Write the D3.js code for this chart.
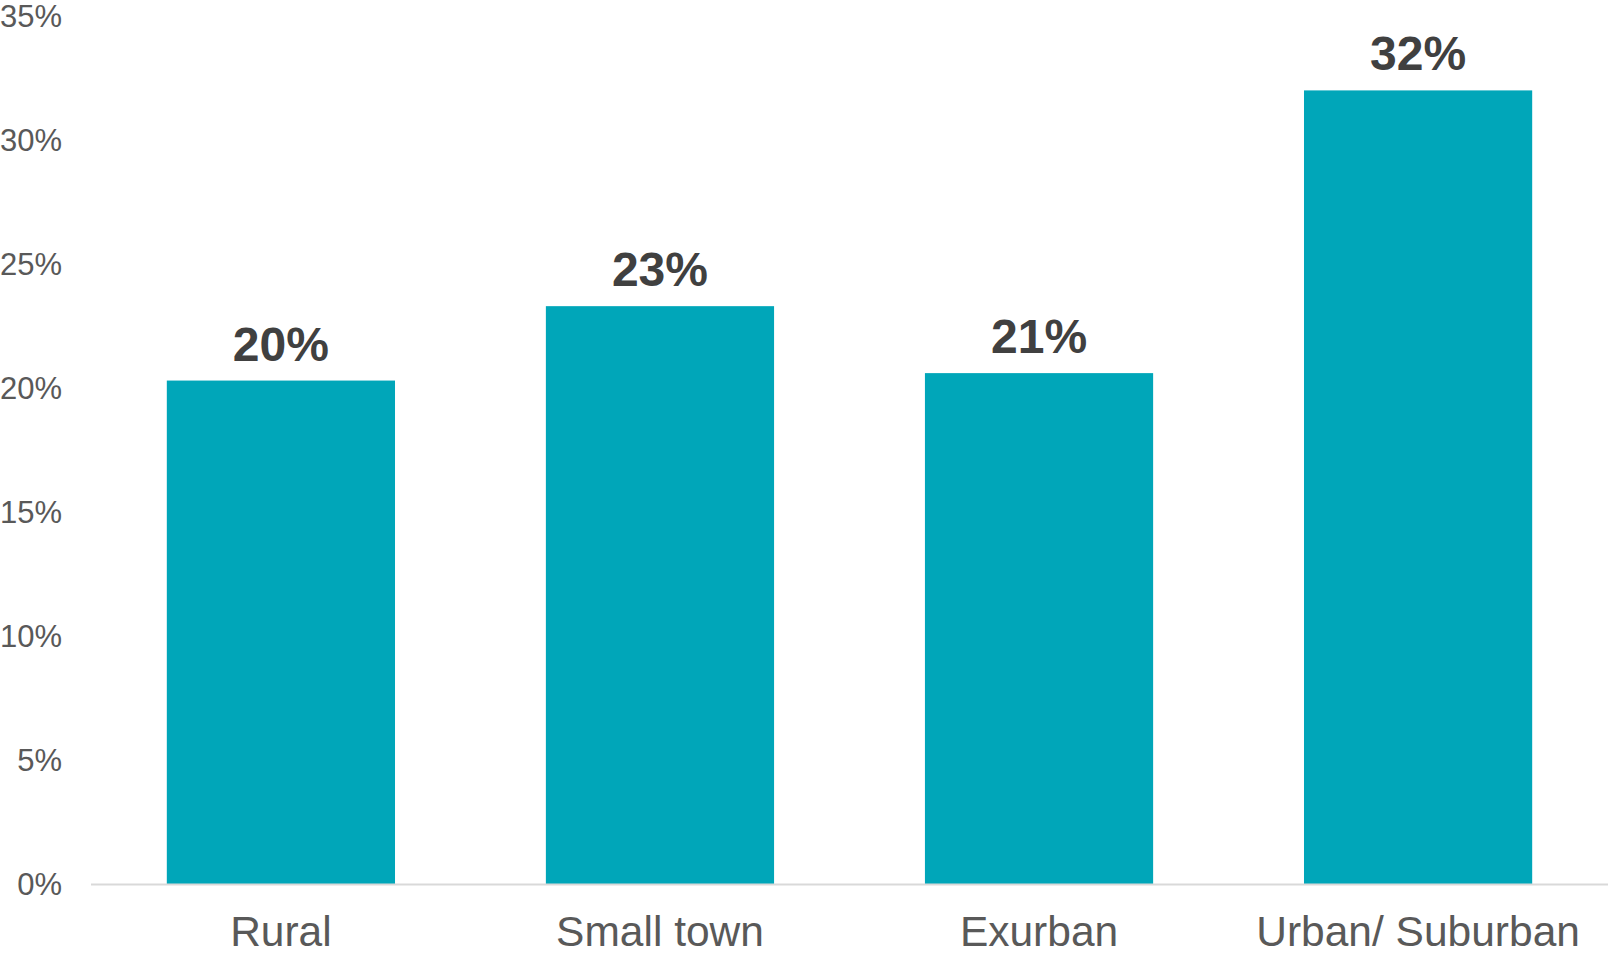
<!DOCTYPE html>
<html>
<head>
<meta charset="utf-8">
<script src="https://cdn.jsdelivr.net/npm/d3@7"></script>
<style>
  html, body { margin: 0; padding: 0; background: #fff; }
  svg { display: block; }
  text { font-family: "Liberation Sans", Arial, sans-serif; }
</style>
</head>
<body>
<svg id="chart" width="1608" height="953"></svg>
<script>
// Share of respondents by community type
const categories = ["Rural", "Small town", "Exurban", "Urban/ Suburban"];
const values = [20.3, 23.3, 20.6, 32.0];
const valueLabels = ["20%", "23%", "21%", "32%"];
const yTicks = [0, 5, 10, 15, 20, 25, 30, 35];

const W = 1608, H = 953;
const margin = { top: 16, right: 0, bottom: 69, left: 91 };

const svg = d3.select("#chart");

const x = d3.scaleBand()
  .domain(categories)
  .range([margin.left, W - margin.right])
  .paddingInner(0.398)
  .paddingOuter(0.2);

const y = d3.scaleLinear()
  .domain([0, 35])
  .range([H - margin.bottom, margin.top]);

// Value axis labels (no line, no ticks)
const yAxis = svg.append("g")
  .attr("transform", `translate(${margin.left - 29},0)`)
  .call(d3.axisLeft(y).tickValues(yTicks).tickFormat(d => d + "%").tickSize(0).tickPadding(0));
yAxis.select(".domain").remove();
yAxis.selectAll("text")
  .attr("fill", "#595959")
  .style("font-size", "31px")
  .style("font-family", "'Liberation Sans', Arial, sans-serif")
  .attr("dy", "0.33em");

// Bars
svg.append("g").selectAll("rect")
  .data(categories)
  .join("rect")
  .attr("x", d => x(d))
  .attr("width", x.bandwidth())
  .attr("y", (d, i) => y(values[i]))
  .attr("height", (d, i) => y(0) - y(values[i]))
  .attr("fill", "#00A6B9");

// Baseline
svg.append("line")
  .attr("x1", margin.left)
  .attr("x2", W)
  .attr("y1", y(0) + 0.5)
  .attr("y2", y(0) + 0.5)
  .attr("stroke", "#d9d9d9")
  .attr("stroke-width", 2);

// Category labels
const xAxis = svg.append("g")
  .attr("transform", `translate(0,${y(0)})`)
  .call(d3.axisBottom(x).tickSize(0).tickPadding(0));
xAxis.select(".domain").remove();
xAxis.selectAll("text")
  .attr("fill", "#595959")
  .attr("dy", null)
  .attr("y", 62)
  .style("font-size", "42.5px")
  .style("font-family", "'Liberation Sans', Arial, sans-serif");

// Value labels above bars
svg.append("g").selectAll("text")
  .data(categories)
  .join("text")
  .attr("x", d => x(d) + x.bandwidth() / 2)
  .attr("y", (d, i) => y(values[i]) - 20)
  .attr("text-anchor", "middle")
  .attr("fill", "#404040")
  .style("font-size", "48px")
  .style("font-weight", "bold")
  .text((d, i) => valueLabels[i]);
</script>
</body>
</html>
